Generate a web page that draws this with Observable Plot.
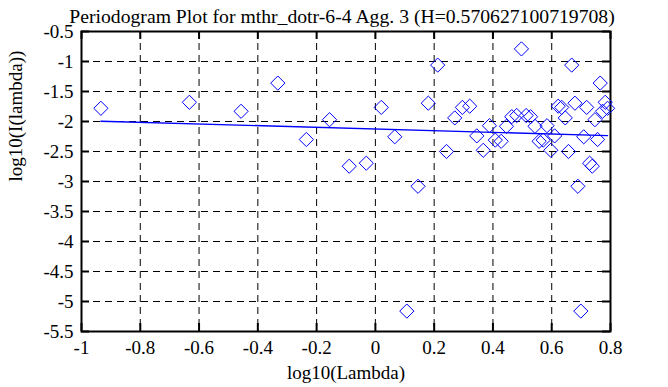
<!DOCTYPE html>
<html>
<head>
<meta charset="utf-8">
<script src="https://cdn.jsdelivr.net/npm/d3@7"></script>
<script src="https://cdn.jsdelivr.net/npm/@observablehq/plot@0.6"></script>
<style>
  html, body { margin: 0; padding: 0; background: #ffffff; }
</style>
</head>
<body>
<div id="chart"></div>
<script>
const title = "Periodogram Plot for mthr_dotr-6-4 Agg. 3 (H=0.570627100719708)";
const xLabel = "log10(Lambda)";
const yLabel = "log10(I(lambda))";

const logLambda = [
  -0.934, -0.633, -0.457, -0.332, -0.235, -0.156, -0.089, -0.031, 0.020, 0.066,
  0.107, 0.145, 0.180, 0.212, 0.242, 0.270, 0.296, 0.321, 0.345, 0.367,
  0.388, 0.408, 0.428, 0.446, 0.464, 0.481, 0.497, 0.513, 0.528, 0.543,
  0.557, 0.571, 0.584, 0.597, 0.610, 0.622, 0.634, 0.646, 0.657, 0.668,
  0.679, 0.689, 0.699, 0.709, 0.719, 0.729, 0.738, 0.747, 0.756, 0.765,
  0.773, 0.782, 0.790
];
const logI = [
  -1.78, -1.68, -1.83, -1.36, -2.30, -1.97, -2.745, -2.695, -1.765, -2.255,
  -5.16, -3.08, -1.695, -1.06, -2.50, -1.94, -1.765, -1.745, -2.24, -2.48,
  -2.07, -2.31, -2.33, -2.08, -1.92, -1.90, -0.79, -1.90, -1.92, -2.08,
  -2.33, -2.31, -2.07, -2.48, -2.24, -1.745, -1.765, -1.94, -2.50, -1.06,
  -1.695, -3.08, -5.16, -2.255, -1.765, -2.695, -2.745, -1.97, -2.30, -1.36,
  -1.83, -1.68, -1.78
];

const fitX = [-0.934, 0.790];
const fitY = [-1.995, -2.235];

const xTicks = [-1, -0.8, -0.6, -0.4, -0.2, 0, 0.2, 0.4, 0.6, 0.8];
const xTickLabels = ["-1", "-0.8", "-0.6", "-0.4", "-0.2", "0", "0.2", "0.4", "0.6", "0.8"];
const yTicks = [-0.5, -1, -1.5, -2, -2.5, -3, -3.5, -4, -4.5, -5, -5.5];
const yTickLabels = ["-0.5", "-1", "-1.5", "-2", "-2.5", "-3", "-3.5", "-4", "-4.5", "-5", "-5.5"];

const points = logLambda.map((x, i) => ({x, y: logI[i]}));
const fit = fitX.map((x, i) => ({x, y: fitY[i]}));
const xt = xTicks.map((v, i) => ({v, label: xTickLabels[i]}));
const yt = yTicks.map((v, i) => ({v, label: yTickLabels[i]}));

const font = "'Liberation Serif', 'Times New Roman', serif";
const W = 668, H = 387, mL = 81, mR = 58, mT = 31, mB = 56;
const plotW = W - mL - mR, plotH = H - mT - mB;
const tickLen = 8;
const blue = "#0000ff";

const chart = Plot.plot({
  width: W, height: H,
  marginLeft: mL, marginRight: mR, marginTop: mT, marginBottom: mB,
  style: {fontFamily: font, fontSize: "19px", background: "#ffffff", color: "#000000"},
  x: {domain: [-1, 0.8], axis: null},
  y: {domain: [-5.5, -0.5], axis: null},
  marks: [
    Plot.gridX(xTicks, {stroke: "#000000", strokeOpacity: 1, strokeWidth: 1, strokeDasharray: "7,5"}),
    Plot.gridY(yTicks, {stroke: "#000000", strokeOpacity: 1, strokeWidth: 1, strokeDasharray: "7,5"}),
    // inward ticks
    Plot.ruleX(xTicks, {stroke: "#000000", strokeWidth: 2, insetTop: plotH - tickLen}),
    Plot.ruleX(xTicks, {stroke: "#000000", strokeWidth: 2, insetBottom: plotH - tickLen}),
    Plot.ruleY(yTicks, {stroke: "#000000", strokeWidth: 2, insetRight: plotW - tickLen}),
    Plot.ruleY(yTicks, {stroke: "#000000", strokeWidth: 2, insetLeft: plotW - tickLen}),
    Plot.frame({stroke: "#000000", strokeWidth: 2}),
    Plot.line(fit, {x: "x", y: "y", stroke: blue, strokeWidth: 1.4}),
    Plot.dot(points, {x: "x", y: "y", symbol: "diamond2", r: 6.4, stroke: blue, strokeWidth: 1, fill: "none"}),
    // tick labels
    Plot.text(xt, {x: "v", text: "label", frameAnchor: "bottom", dy: 22, fontSize: 19, fill: "#000000"}),
    Plot.text(yt, {y: "v", text: "label", frameAnchor: "left", textAnchor: "end", dx: -8, fontSize: 19, fill: "#000000"}),
    // titles
    Plot.text([title], {frameAnchor: "top", dy: -23, dx: -4, fontSize: 19.7, fill: "#000000"}),
    Plot.text([xLabel], {frameAnchor: "bottom", dy: 47, fontSize: 19, fill: "#000000"}),
    Plot.text([yLabel], {frameAnchor: "left", dx: -66, rotate: -90, fontSize: 19, fill: "#000000"})
  ]
});
document.getElementById("chart").appendChild(chart);
</script>
</body>
</html>
